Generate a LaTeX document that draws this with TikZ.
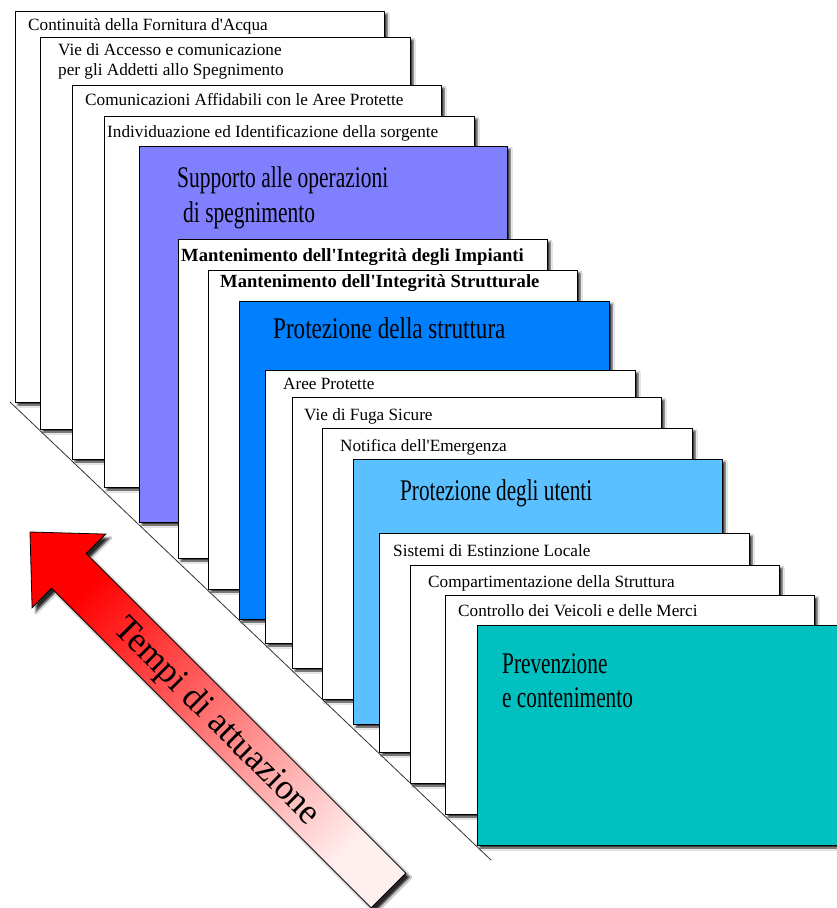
\documentclass[tikz,border=0pt]{standalone}
\usepackage{fontspec}
\setmainfont{Liberation Serif}[Ligatures=TeXOff]
\usepackage{graphicx}
\usetikzlibrary{shadows.blur}

\definecolor{lavender}{RGB}{128,128,255}
\definecolor{azure}{RGB}{0,128,255}
\definecolor{skyblue}{RGB}{90,192,255}
\definecolor{tealbox}{RGB}{0,192,192}
\definecolor{tailpink}{RGB}{255,240,240}

% horizontally condensed text
\newcommand\narrowtext[2]{\scalebox{#1}[1]{#2}}

\tikzset{
  card/.style={draw=black, line width=0.9pt, fill=white,
    blur shadow={shadow xshift=3pt, shadow yshift=-3pt,
                 shadow blur radius=2pt, shadow opacity=85}},
  small/.style={anchor=base west, inner sep=0pt, font=\fontsize{17.2}{20}\selectfont},
  boldlabel/.style={anchor=base west, inner sep=0pt, font=\fontsize{18.6}{22}\selectfont\bfseries},
  big/.style={anchor=base west, inner sep=0pt, font=\fontsize{30}{36}\selectfont},
}

\begin{document}
\begin{tikzpicture}[x=1pt,y=-1pt]
\clip (0,0) rectangle (837,908);
\fill[white] (0,0) rectangle (837,908);

% stacked cards, from the back to the front
\draw[card] (15,11) rectangle (384,402);
\node[small] (t1) at (28,30) {Continuità della Fornitura d'Acqua};

\draw[card] (40,37) rectangle (410,429);
\node[small] (t2a) at (58,55) {Vie di Accesso e comunicazione};
\node[small] (t2b) at (58,75) {per gli Addetti allo Spegnimento};

\draw[card] (72,85) rectangle (441,459);
\node[small] (t3) at (85,105) {Comunicazioni Affidabili con le Aree Protette};

\draw[card] (104,116) rectangle (474,487);
\node[small] (t4) at (107,137) {Individuazione ed Identificazione della sorgente};

\draw[card, fill=lavender] (139,146) rectangle (507,522);
\node[big] (t5a) at (177,187) {\narrowtext{0.716}{Supporto alle operazioni}};
\node[big] (t5b) at (183,222) {\narrowtext{0.716}{di spegnimento}};

\draw[card] (178,239) rectangle (547,558);
\node[boldlabel] (t6) at (181,261) {Mantenimento dell'Integrità degli Impianti};

\draw[card] (208,270) rectangle (577,589);
\node[boldlabel] (t7) at (220,287) {Mantenimento dell'Integrità Strutturale};

\draw[card, fill=azure] (239,301) rectangle (609,619);
\node[big] (t8) at (273,338) {\narrowtext{0.77}{Protezione della struttura}};

\draw[card] (265,370) rectangle (635,643);
\node[small] (t9) at (283,389) {Aree Protette};

\draw[card] (292,397) rectangle (661,668);
\node[small] (t10) at (304,420) {Vie di Fuga Sicure};

\draw[card] (322,428) rectangle (692,699);
\node[small] (t11) at (340,451) {Notifica dell'Emergenza};

\draw[card, fill=skyblue] (353,459) rectangle (722,724);
\node[big] (t12) at (400,500) {\narrowtext{0.707}{Protezione degli utenti}};

\draw[card] (379,533) rectangle (749,752);
\node[small] (t13) at (393,556) {Sistemi di Estinzione Locale};

\draw[card] (410,565) rectangle (779,783);
\node[small] (t14) at (428,587) {Compartimentazione della Struttura};

\draw[card] (445,595) rectangle (814,814);
\node[small] (t15) at (458,616) {Controllo dei Veicoli e delle Merci};

\draw[card, fill=tealbox] (477,625) rectangle (847,845);
\node[big] (t16a) at (502,673) {\narrowtext{0.71}{Prevenzione}};
\node[big] (t16b) at (502,707) {\narrowtext{0.71}{e contenimento}};

% diagonal base line under the cards
\coordinate (d1) at (10,402);
\coordinate (d2) at (491,860);
\draw[line width=0.8pt, black!80] (d1) -- (d2);

% time arrow
\coordinate (tip) at (30,532);
\coordinate (hr) at (105.7,534.1);
\coordinate (nr) at (86.2,553.6);
\coordinate (er) at (405.8,873.2);
\coordinate (el) at (371.2,907.8);
\coordinate (nl) at (51.6,588.2);
\coordinate (hl) at (32.1,607.7);
\shade[top color=red, bottom color=tailpink, shading angle=45,
       draw=black, line width=0.8pt,
       blur shadow={shadow xshift=4pt, shadow yshift=-4pt,
                    shadow blur radius=2pt, shadow opacity=85}]
  (tip) -- (hr) -- (nr) -- (er) -- (el) -- (nl) -- (hl) -- cycle;
\node[rotate=-45, inner sep=0pt, font=\fontsize{36}{40}\selectfont]
  (arrowlabel) at (216,722) {\narrowtext{0.97}{Tempi di attuazione}};
\end{tikzpicture}
\end{document}
